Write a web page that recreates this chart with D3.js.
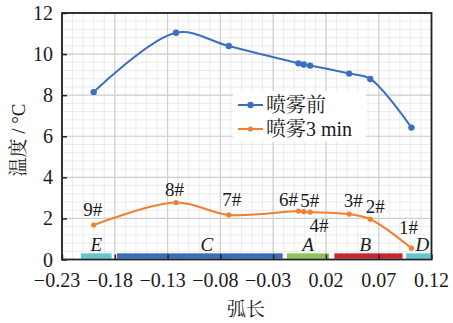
<!DOCTYPE html>
<html>
<head>
<meta charset="utf-8">
<script src="https://cdn.jsdelivr.net/npm/d3@7"></script>
<style>
  html, body { margin: 0; padding: 0; background: #fff; }
  svg { display: block; }
</style>
</head>
<body>
<svg id="chart" width="453" height="323"></svg>
<script>
// Measuring points along the arc (numbered 9# .. 1# from left to right)
const arcLength = [-0.200, -0.122, -0.072, -0.006, -0.001, 0.005, 0.042, 0.062, 0.101];
const pointNames = ["9#", "8#", "7#", "6#", "5#", "4#", "3#", "2#", "1#"];
// Temperature (°C) before spraying and after 3 min of spraying
const tempBefore = [8.15, 11.04, 10.39, 9.55, 9.49, 9.44, 9.05, 8.79, 6.42];
const temp3min   = [1.68, 2.77, 2.17, 2.36, 2.33, 2.31, 2.21, 1.96, 0.55];
const seriesNames = ["喷雾前", "喷雾3 min"];

// Zones along the arc
const zoneNames = ["E", "C", "A", "B", "D"];
const zoneStart = [-0.212, -0.178, -0.017, 0.028, 0.096];
const zoneEnd   = [-0.183, -0.021, 0.023, 0.0925, 0.119];

// Axis ticks
const xTicks = [-0.23, -0.18, -0.13, -0.08, -0.03, 0.02, 0.07, 0.12];
const yTicks = [0, 2, 4, 6, 8, 10, 12];

const FONT = "'Liberation Serif', 'Times New Roman', 'Noto Serif CJK SC', serif";
const ink = "#1a1a1a";
const svg = d3.select("#chart");
const L = 62, R = 431.5, T = 13, B = 259.5;

const x = d3.scaleLinear().domain([-0.23, 0.12]).range([L, R]);
const y = d3.scaleLinear().domain([0, 12]).range([B, T]);

function label(sel) {
  return sel.attr("font-family", FONT).attr("fill", ink);
}

// grid: minor every 0.01 / 0.4, major at ticks
const g = svg.append("g");
const minorX = d3.range(0, 36).map(i => -0.23 + i * 0.01);
const minorY = d3.range(0, 31).map(i => i * 0.4);
g.selectAll(".mx").data(minorX).join("line")
  .attr("x1", d => x(d)).attr("x2", d => x(d)).attr("y1", T).attr("y2", B)
  .attr("stroke", "#ebebeb").attr("stroke-width", 1);
g.selectAll(".my").data(minorY).join("line")
  .attr("y1", d => y(d)).attr("y2", d => y(d)).attr("x1", L).attr("x2", R)
  .attr("stroke", "#ebebeb").attr("stroke-width", 1);
g.selectAll(".gx").data(xTicks).join("line")
  .attr("x1", d => x(d)).attr("x2", d => x(d)).attr("y1", T).attr("y2", B)
  .attr("stroke", "#cfcfcf").attr("stroke-width", 1.2);
g.selectAll(".gy").data(yTicks).join("line")
  .attr("y1", d => y(d)).attr("y2", d => y(d)).attr("x1", L).attr("x2", R)
  .attr("stroke", "#cfcfcf").attr("stroke-width", 1.2);

// zone bars along the x axis
const zoneColor = { E: "#62c8d0", C: "#3a6cb8", A: "#8cc45a", B: "#c3292f", D: "#62c8d0" };
const zoneNudge = { E: 0, C: 7, A: 0, B: -3, D: 4 };
const zones = zoneNames.map((n, i) => ({ n, s: zoneStart[i], e: zoneEnd[i] }));
svg.selectAll(".zone").data(zones).join("rect")
  .attr("x", d => x(d.s)).attr("width", d => x(d.e) - x(d.s))
  .attr("y", y(0.3)).attr("height", y(0.04) - y(0.3))
  .attr("fill", d => zoneColor[d.n]);
svg.selectAll(".zlab").data(zones).join("text")
  .call(label)
  .attr("x", d => x((d.s + d.e) / 2) + zoneNudge[d.n]).attr("y", 251)
  .attr("text-anchor", "middle").attr("font-style", "italic").attr("font-size", 19)
  .text(d => d.n);

// axes (ticks point inward)
const xAxis = svg.append("g").attr("transform", `translate(0,${B})`)
  .call(d3.axisBottom(x).tickValues(xTicks).tickSizeInner(-5).tickSizeOuter(0).tickFormat(""));
const yAxis = svg.append("g").attr("transform", `translate(${L},0)`)
  .call(d3.axisLeft(y).tickValues(yTicks).tickSizeInner(-5).tickSizeOuter(0).tickFormat(""));
[xAxis, yAxis].forEach(a => {
  a.select(".domain").remove();
  a.selectAll(".tick line").attr("stroke", "#222").attr("stroke-width", 1.5);
});
svg.append("rect").attr("x", L).attr("y", T).attr("width", R - L).attr("height", B - T)
  .attr("fill", "none").attr("stroke", "#222").attr("stroke-width", 1.8);

// tick labels; the minus sign hangs left of the centred number
svg.selectAll(".xl").data(xTicks).join("text")
  .call(label)
  .attr("x", d => x(d) - (d < 0 ? 5 : 0)).attr("y", 287)
  .attr("text-anchor", "middle").attr("font-size", 20)
  .text(d => (d < 0 ? "\u2212" : "") + Math.abs(d).toFixed(2));
svg.selectAll(".yl").data(yTicks).join("text")
  .call(label)
  .attr("x", 53).attr("y", d => y(d) + 7)
  .attr("text-anchor", "end").attr("font-size", 20)
  .text(d => d);

// axis titles
svg.append("text").call(label).attr("x", 246).attr("y", 316).attr("text-anchor", "middle")
  .attr("font-size", 19).text("弧长");
svg.append("text").call(label).attr("transform", "translate(25,140) rotate(-90)")
  .attr("text-anchor", "middle").attr("font-size", 19).text("温度 / °C");

// series
const colors = ["#3b6fc1", "#f07f30"];
const series = [tempBefore, temp3min];
const line = d3.line().x(d => x(d[0])).y(d => y(d[1])).curve(d3.curveCatmullRom.alpha(0.5));
series.forEach((vals, k) => {
  const pts = arcLength.map((a, i) => [a, vals[i]]);
  svg.append("path").datum(pts).attr("d", line)
    .attr("fill", "none").attr("stroke", colors[k]).attr("stroke-width", 2);
  svg.selectAll(".m" + k).data(pts).join("circle")
    .attr("cx", d => x(d[0])).attr("cy", d => y(d[1]))
    .attr("r", k === 0 ? 3.2 : 2.6).attr("fill", colors[k]);
});

// point names beside the sprayed series
const nameOffset = {
  "9#": [-1, -8.5], "8#": [-1.5, -7], "7#": [3, -8.5], "6#": [-10, -5],
  "5#": [6, -5], "4#": [9, 19.5], "3#": [4, -7.5], "2#": [5, -6.5], "1#": [-3, -14]
};
svg.selectAll(".pn").data(pointNames).join("text")
  .call(label)
  .attr("x", (d, i) => x(arcLength[i]) + nameOffset[d][0])
  .attr("y", (d, i) => y(temp3min[i]) + nameOffset[d][1])
  .attr("text-anchor", "middle").attr("font-size", 19)
  .text(d => d);

// legend
const lg = svg.append("g");
lg.append("rect").attr("x", 233).attr("y", 91).attr("width", 133).attr("height", 51)
  .attr("fill", "#fff");
seriesNames.forEach((n, k) => {
  const cy = 105 + k * 24;
  lg.append("line").attr("x1", 238).attr("x2", 263).attr("y1", cy).attr("y2", cy)
    .attr("stroke", colors[k]).attr("stroke-width", 2);
  lg.append("circle").attr("cx", 250.5).attr("cy", cy).attr("r", k === 0 ? 3.2 : 2.6)
    .attr("fill", colors[k]);
  lg.append("text").call(label).attr("x", 266).attr("y", cy + 7).attr("font-size", 20).text(n);
});
</script>
</body>
</html>
